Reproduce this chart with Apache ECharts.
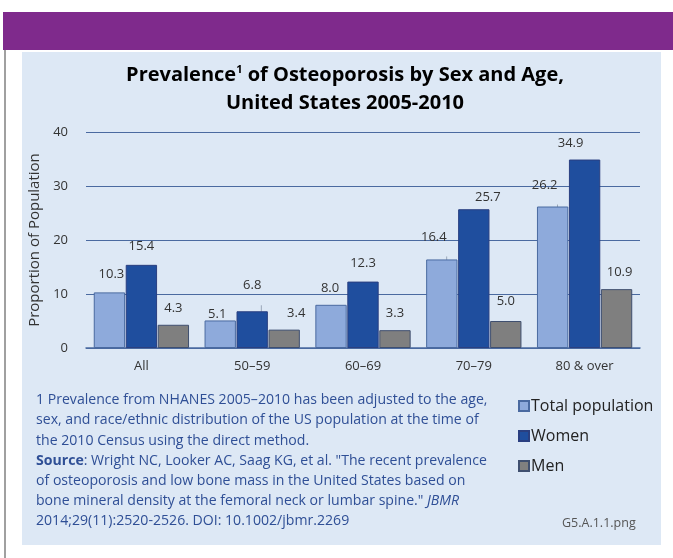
<!DOCTYPE html>
<html>
<head>
<meta charset="utf-8">
<script src="https://cdn.jsdelivr.net/npm/echarts@6/dist/echarts.min.js"></script>
<style>
html,body{margin:0;padding:0;background:#fff;}
#chart{width:673px;height:558px;}
</style>
</head>
<body>
<div id="chart"></div>
<script>
var categories = ['All', '50\u201359', '60\u201369', '70\u201379', '80 & over'];
var totalPopulation = [10.3, 5.1, 8.0, 16.4, 26.2];
var women = [15.4, 6.8, 12.3, 25.7, 34.9];
var men = [4.3, 3.4, 3.3, 5.0, 10.9];
var yTicks = [0, 10, 20, 30, 40];
var seriesNames = ['Total population', 'Women', 'Men'];

// label nudges (layout only, not data)
var labelNudge = {
  0: [[2, -2], [-3, 10], [-1, 0], [-8, -6], [-8, -5]],
  1: [[0, -2], [0, -9], [0, -2], [14, 5], [-14, 0]],
  2: [[0, 0], [12, 0], [0, 0], [0, -3], [3, 0]]
};
var leader = {0: [false, false, false, true, true], 1: [false, true, false, false, false], 2: [false, false, false, false, false]};

var FONT = '"Open Sans", sans-serif';
var chart = echarts.init(document.getElementById('chart'), null, {renderer: 'canvas'});

function buildData(values, si) {
  return values.map(function (v, i) {
    var d = {value: v, label: {offset: labelNudge[si][i]}};
    if (leader[si][i]) {
      d.labelLine = {show: true, lineStyle: {color: '#9aa7b8', width: 1}};
    }
    return d;
  });
}

function lbl() {
  return {
    show: true, position: 'top', distance: 10,
    color: '#333', fontSize: 13, fontFamily: FONT,
    formatter: function (p) { return p.value.toFixed(1); }
  };
}

var FN = 14.1;
var option = {
  backgroundColor: '#ffffff',
  animation: false,
  graphic: [
    {type: 'rect', shape: {x: 3, y: 12, width: 670, height: 38}, style: {fill: '#7f2a8c'}, z: -10},
    {type: 'rect', shape: {x: 4, y: 50, width: 2, height: 508}, style: {fill: '#a0a0a0'}, z: -10},
    {type: 'rect', shape: {x: 22, y: 52, width: 639, height: 493}, style: {fill: '#dde8f5'}, z: -10},
    {type: 'text', x: 345, y: 75, style: {
      text: '{t|Prevalence}{s|1}{t| of Osteoporosis by Sex and Age,}',
      align: 'center', verticalAlign: 'middle',
      rich: {
        t: {fontSize: 20, fontWeight: 'bold', fontFamily: FONT, color: '#333'},
        s: {fontSize: 11, fontWeight: 'bold', fontFamily: FONT, color: '#333', padding: [0, 0, 10, 0]}
      }
    }},
    {type: 'text', x: 345, y: 103, style: {
      text: '{t|United States 2005-2010}', align: 'center', verticalAlign: 'middle',
      rich: {t: {fontSize: 20, fontWeight: 'bold', fontFamily: FONT, color: '#333'}}
    }},
    {type: 'text', left: 36, top: 390, style: {
      text: '1 Prevalence from NHANES 2005\u20132010 has been adjusted to the age,\n' +
            'sex, and race/ethnic distribution of the US population at the time of\n' +
            'the 2010 Census using the direct method.\n' +
            '{b|Source}: Wright NC, Looker AC, Saag KG, et al. "The recent prevalence\n' +
            'of osteoporosis and low bone mass in the United States based on\n' +
            'bone mineral density at the femoral neck or lumbar spine." {i|JBMR}\n' +
            '2014;29(11):2520-2526. DOI: 10.1002/jbmr.2269',
      fill: '#2f4f96', fontSize: FN, fontFamily: FONT, lineHeight: 20.2,
      rich: {
        b: {fontWeight: 'bold', fontSize: FN, fontFamily: FONT, color: '#2f4f96', lineHeight: 20.2},
        i: {fontStyle: 'italic', fontSize: FN, fontFamily: FONT, color: '#2f4f96', lineHeight: 20.2}
      }
    }},
    {type: 'text', left: 562, top: 517, style: {text: 'G5.A.1.1.png', fill: '#555', fontSize: 12.5, fontFamily: FONT}}
  ],
  legend: {
    orient: 'vertical', left: 513, top: 393, itemGap: 14,
    itemWidth: 10, itemHeight: 10, icon: 'rect',
    textStyle: {fontSize: 16, color: '#222', fontFamily: FONT, padding: [0, 0, 0, -3]},
    data: seriesNames
  },
  grid: {left: 86, right: 33, top: 132, bottom: 210, containLabel: false},
  xAxis: {
    type: 'category', data: categories,
    axisLine: {lineStyle: {color: '#4a6aa0', width: 1.5}},
    axisTick: {show: false},
    axisLabel: {color: '#333', fontSize: 13, fontFamily: FONT, margin: 12}
  },
  yAxis: {
    type: 'value', min: 0, max: 40, interval: 10,
    name: 'Proportion of Population', nameLocation: 'middle', nameGap: 41,
    nameTextStyle: {color: '#333', fontSize: 15, fontFamily: FONT},
    axisLine: {show: false}, axisTick: {show: false},
    axisLabel: {color: '#333', fontSize: 13, fontFamily: FONT, margin: 18,
      formatter: function (v) { return yTicks.indexOf(v) >= 0 ? String(v) : ''; }},
    splitLine: {lineStyle: {color: '#4a6aa0', width: 1}}
  },
  series: [
    {name: seriesNames[0], type: 'bar', data: buildData(totalPopulation, 0), barGap: '2%', barCategoryGap: '14%',
     itemStyle: {color: '#8eaadb', borderColor: '#4a6aa0', borderWidth: 1}, label: lbl()},
    {name: seriesNames[1], type: 'bar', data: buildData(women, 1),
     itemStyle: {color: '#1f4e9e', borderColor: '#2a3f80', borderWidth: 1}, label: lbl()},
    {name: seriesNames[2], type: 'bar', data: buildData(men, 2),
     itemStyle: {color: '#7f7f7f', borderColor: '#3f4f6f', borderWidth: 1}, label: lbl()}
  ]
};
chart.setOption(option);
</script>
</body>
</html>
